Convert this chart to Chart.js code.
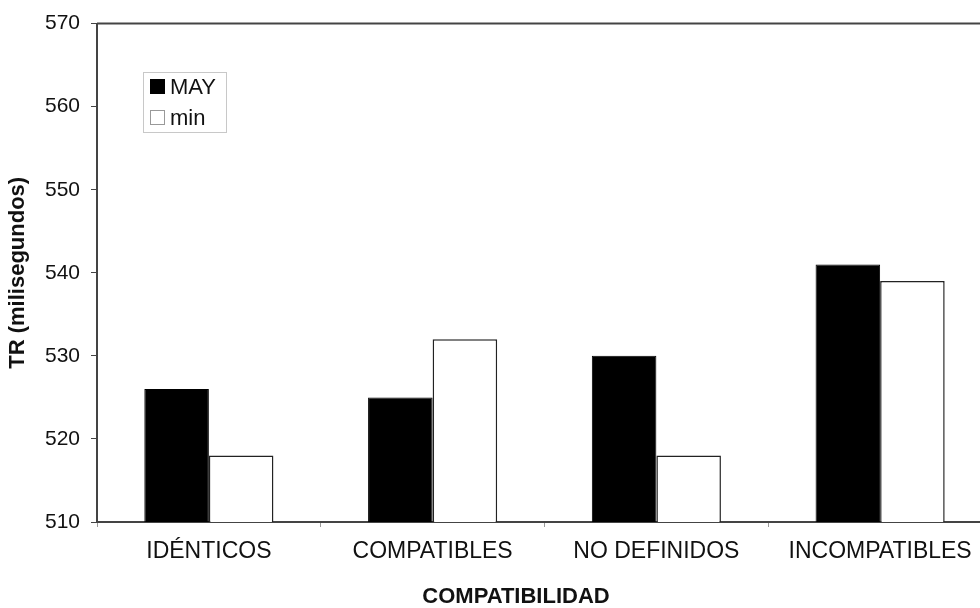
<!DOCTYPE html>
<html>
<head>
<meta charset="utf-8">
<script src="https://cdn.jsdelivr.net/npm/chart.js@4.4.0/dist/chart.umd.min.js"></script>
<style>
  html, body { margin: 0; padding: 0; background: #fff; overflow: hidden; }
  #wrap { width: 992px; height: 608px; }
</style>
</head>
<body>
<div id="wrap"><canvas id="grafico" width="992" height="608"></canvas></div>
<script>
// Datos
const categorias = ['IDÉNTICOS', 'COMPATIBLES', 'NO DEFINIDOS', 'INCOMPATIBLES'];
const valoresMay = [526, 525, 530, 541];
const valoresMin = [518, 532, 518, 539];
const nombresSeries = ['MAY', 'min'];
const ejeY = { min: 510, max: 570, paso: 10 };
const tituloX = 'COMPATIBILIDAD';
const tituloY = 'TR (milisegundos)';

const FUENTE = '"Liberation Sans", Arial, sans-serif';
const GRIS_EJE = '#444';

// Leyenda dentro del área, línea superior y título del eje X
const extras = {
  id: 'extras',
  afterDraw(chart) {
    const ctx = chart.ctx;
    const area = chart.chartArea;
    ctx.save();
    // línea superior del marco
    ctx.strokeStyle = GRIS_EJE;
    ctx.lineWidth = 2;
    ctx.beginPath();
    ctx.moveTo(area.left, area.top);
    ctx.lineTo(area.right, area.top);
    ctx.stroke();

    // caja de leyenda
    const x0 = 143, y0 = 72, w = 83, h = 60;
    ctx.strokeStyle = '#c8c8c8';
    ctx.lineWidth = 1;
    ctx.strokeRect(x0 + 0.5, y0 + 0.5, w, h);

    ctx.font = '22px ' + FUENTE;
    ctx.textBaseline = 'middle';
    ctx.textAlign = 'left';
    chart.data.datasets.forEach((ds, i) => {
      const cy = i === 0 ? 86.5 : 117.5;
      ctx.fillStyle = ds.backgroundColor;
      ctx.fillRect(150, cy - 7.5, 15, 15);
      ctx.strokeStyle = i === 0 ? '#000' : '#999';
      ctx.strokeRect(150.5, cy - 7, 14, 14);
      ctx.fillStyle = '#111';
      ctx.fillText(ds.label, 170, cy + 1);
    });

    // título del eje X (desplazado como en el original)
    ctx.font = 'bold 22px ' + FUENTE;
    ctx.textAlign = 'center';
    ctx.fillStyle = '#111';
    ctx.fillText(tituloX, 516, 597);
    ctx.restore();
  }
};

new Chart(document.getElementById('grafico'), {
  type: 'bar',
  data: {
    labels: categorias,
    datasets: [
      {
        label: nombresSeries[0],
        data: valoresMay,
        backgroundColor: '#000',
        borderColor: '#000',
        borderWidth: 1
      },
      {
        label: nombresSeries[1],
        data: valoresMin,
        backgroundColor: '#fff',
        borderColor: '#222',
        borderWidth: 1.5
      }
    ]
  },
  options: {
    responsive: false,
    animation: false,
    layout: { padding: { top: 22, right: 0, left: 0, bottom: 0 } },
    datasets: {
      bar: { barPercentage: 1, categoryPercentage: 0.577 }
    },
    plugins: {
      legend: { display: false },
      tooltip: { enabled: false }
    },
    scales: {
      x: {
        afterFit: s => { s.height = 86; },
        grid: {
          display: true,
          drawOnChartArea: false,
          tickLength: 5,
          color: '#999',
          offset: true
        },
        border: { display: true, color: GRIS_EJE, width: 2 },
        ticks: {
          color: '#111',
          padding: 11,
          maxRotation: 0,
          font: { family: FUENTE, size: 23 }
        },
        title: { display: false }
      },
      y: {
        min: ejeY.min,
        max: ejeY.max,
        afterFit: s => { s.width = 97; },
        grid: {
          display: true,
          drawOnChartArea: false,
          tickLength: 6,
          color: GRIS_EJE
        },
        border: { display: true, color: GRIS_EJE, width: 2 },
        ticks: {
          stepSize: ejeY.paso,
          color: '#111',
          padding: 11,
          font: { family: FUENTE, size: 21 }
        },
        title: {
          display: true,
          text: tituloY,
          color: '#111',
          padding: { top: 5, bottom: 0 },
          font: { family: FUENTE, size: 22, weight: 'bold' }
        }
      }
    }
  },
  plugins: [extras]
});
</script>
</body>
</html>
